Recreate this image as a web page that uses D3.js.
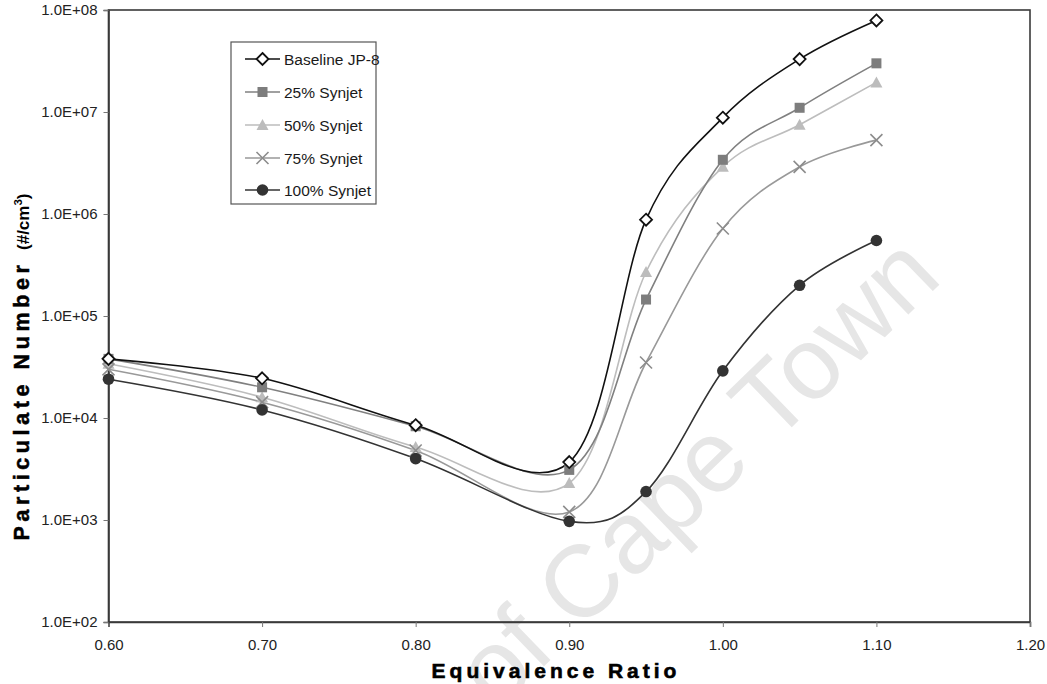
<!DOCTYPE html>
<html>
<head>
<meta charset="utf-8">
<script src="https://cdn.jsdelivr.net/npm/d3@7"></script>
<style>
  html, body { margin: 0; padding: 0; background: #fff; }
  svg { display: block; font-family: "Liberation Sans", Arial, sans-serif; }
</style>
</head>
<body>
<svg id="chart" width="1047" height="684"></svg>
<script>
// Equivalence ratio sampled for each fuel blend
const ratios = [0.60, 0.70, 0.80, 0.90, 0.95, 1.00, 1.05, 1.10];

// Particulate number concentration (#/cm3) per blend
const baselineJP8 = [3.8e4, 2.45e4, 8.5e3, 3.7e3, 8.8e5, 8.8e6, 3.3e7, 7.9e7];
const synjet25    = [3.8e4, 2.0e4, 8.3e3, 3.1e3, 1.45e5, 3.4e6, 1.1e7, 3.0e7];
const synjet50    = [3.4e4, 1.6e4, 5.2e3, 2.3e3, 2.7e5, 2.9e6, 7.5e6, 1.95e7];
const synjet75    = [3.0e4, 1.43e4, 4.8e3, 1.2e3, 3.5e4, 7.2e5, 2.9e6, 5.3e6];
const synjet100   = [2.4e4, 1.2e4, 4.0e3, 9.7e2, 1.9e3, 2.9e4, 2.0e5, 5.5e5];

const seriesNames = ["Baseline JP-8", "25% Synjet", "50% Synjet", "75% Synjet", "100% Synjet"];

// Axis ticks
const xTicks = [0.60, 0.70, 0.80, 0.90, 1.00, 1.10, 1.20];
const yTicks = [1e2, 1e3, 1e4, 1e5, 1e6, 1e7, 1e8];

const series = [
  { name: seriesNames[0], values: baselineJP8, line: "#111", marker: "diamond", fill: "#fff", stroke: "#111" },
  { name: seriesNames[1], values: synjet25,    line: "#808080", marker: "square", fill: "#7d7d7d", stroke: "none" },
  { name: seriesNames[2], values: synjet50,    line: "#bdbdbd", marker: "triangle", fill: "#bcbcbc", stroke: "none" },
  { name: seriesNames[3], values: synjet75,    line: "#999", marker: "cross", fill: "none", stroke: "#8c8c8c" },
  { name: seriesNames[4], values: synjet100,   line: "#333", marker: "circle", fill: "#333", stroke: "none" }
];

const svg = d3.select("#chart");
const plot = { left: 108.5, right: 1030, top: 10, bottom: 622 };

const x = d3.scaleLinear().domain([0.60, 1.20]).range([plot.left, plot.right]);
const y = d3.scaleLog().domain([1e2, 1e8]).range([plot.bottom, plot.top]);

// Faint diagonal watermark behind the plot
svg.append("text")
  .attr("transform", "translate(944,280) rotate(-44)")
  .attr("text-anchor", "end")
  .attr("font-size", 102)
  .attr("fill", "#e6e6e6")
  .text("of Cape Town");

// Plot frame
svg.append("rect")
  .attr("x", plot.left).attr("y", plot.top)
  .attr("width", plot.right - plot.left).attr("height", plot.bottom - plot.top)
  .attr("fill", "none").attr("stroke", "#3a3a3a").attr("stroke-width", 1.6);

// Axes
const xAxis = d3.axisBottom(x).tickValues(xTicks).tickSize(5).tickPadding(12)
  .tickFormat(d3.format(".2f"));
const yAxis = d3.axisLeft(y).tickValues(yTicks).tickSize(5).tickPadding(6)
  .tickFormat(d => "1.0E+" + String(Math.round(Math.log10(d))).padStart(2, "0"));

const gx = svg.append("g").attr("transform", `translate(0,${plot.bottom})`).call(xAxis);
const gy = svg.append("g").attr("transform", `translate(${plot.left},0)`).call(yAxis);
[gx, gy].forEach(g => {
  g.select(".domain").attr("stroke", "#3a3a3a").attr("stroke-width", 1.6);
  g.selectAll(".tick line").attr("stroke", "#777").attr("stroke-width", 1);
  g.selectAll(".tick text").attr("font-size", 15).attr("fill", "#222")
    .attr("font-family", "'Liberation Sans', Arial, sans-serif");
});

// Smoothed series lines
const line = d3.line()
  .x((d, i) => x(ratios[i]))
  .y(d => y(d))
  .curve(d3.curveCardinal.tension(0));

const lineOrder = [2, 3, 1, 4, 0];
lineOrder.forEach(k => {
  const s = series[k];
  svg.append("path")
    .attr("d", line(s.values))
    .attr("fill", "none")
    .attr("stroke", s.line)
    .attr("stroke-width", 1.6);
});

// Marker drawing
function drawMarker(g, type, cx, cy, s) {
  if (type === "diamond") {
    g.append("path")
      .attr("d", `M${cx},${cy - 6}L${cx + 6},${cy}L${cx},${cy + 6}L${cx - 6},${cy}Z`)
      .attr("fill", s.fill).attr("stroke", s.stroke).attr("stroke-width", 1.8);
  } else if (type === "square") {
    g.append("rect").attr("x", cx - 5).attr("y", cy - 5).attr("width", 10).attr("height", 10)
      .attr("fill", s.fill);
  } else if (type === "triangle") {
    g.append("path")
      .attr("d", `M${cx},${cy - 6}L${cx + 6},${cy + 5}L${cx - 6},${cy + 5}Z`)
      .attr("fill", s.fill);
  } else if (type === "cross") {
    g.append("path")
      .attr("d", `M${cx - 6},${cy - 6}L${cx + 6},${cy + 6}M${cx - 6},${cy + 6}L${cx + 6},${cy - 6}`)
      .attr("stroke", s.stroke).attr("stroke-width", 1.6).attr("fill", "none");
  } else if (type === "circle") {
    g.append("circle").attr("cx", cx).attr("cy", cy).attr("r", 5.8).attr("fill", s.fill);
  }
}

const markers = svg.append("g");
lineOrder.forEach(k => {
  const s = series[k];
  s.values.forEach((v, i) => drawMarker(markers, s.marker, x(ratios[i]), y(v), s));
});

// Legend
const legend = svg.append("g");
legend.append("rect")
  .attr("x", 231).attr("y", 42).attr("width", 145).attr("height", 162)
  .attr("fill", "#fff").attr("stroke", "#555").attr("stroke-width", 1.2);
const legendRows = [59, 92, 125, 158, 190];
series.forEach((s, i) => {
  const ly = legendRows[i];
  legend.append("line").attr("x1", 245).attr("x2", 280).attr("y1", ly).attr("y2", ly)
    .attr("stroke", s.line).attr("stroke-width", 1.6);
  drawMarker(legend, s.marker, 262.5, ly, s);
  legend.append("text").attr("x", 284).attr("y", ly + 5.5)
    .attr("font-size", 15.5).attr("fill", "#1a1a1a").text(s.name);
});

// Axis titles
svg.append("text")
  .attr("x", 556).attr("y", 678)
  .attr("text-anchor", "middle")
  .attr("font-size", 21).attr("font-weight", "bold")
  .attr("letter-spacing", 4)
  .attr("stroke", "#000").attr("stroke-width", 0.6)
  .text("Equivalence Ratio");

const yTitle = svg.append("text")
  .attr("transform", "translate(29,367) rotate(-90)")
  .attr("text-anchor", "middle");
yTitle.append("tspan")
  .attr("font-size", 21.5).attr("font-weight", "bold")
  .attr("letter-spacing", 4.6)
  .attr("stroke", "#000").attr("stroke-width", 0.5)
  .text("Particulate Number ");
yTitle.append("tspan").attr("font-size", 17).attr("font-weight", "bold").text("(#/cm");
yTitle.append("tspan").attr("font-size", 11.5).attr("font-weight", "bold").attr("dy", -7).text("3");
yTitle.append("tspan").attr("font-size", 17).attr("font-weight", "bold").attr("dy", 7).text(")");
</script>
</body>
</html>
